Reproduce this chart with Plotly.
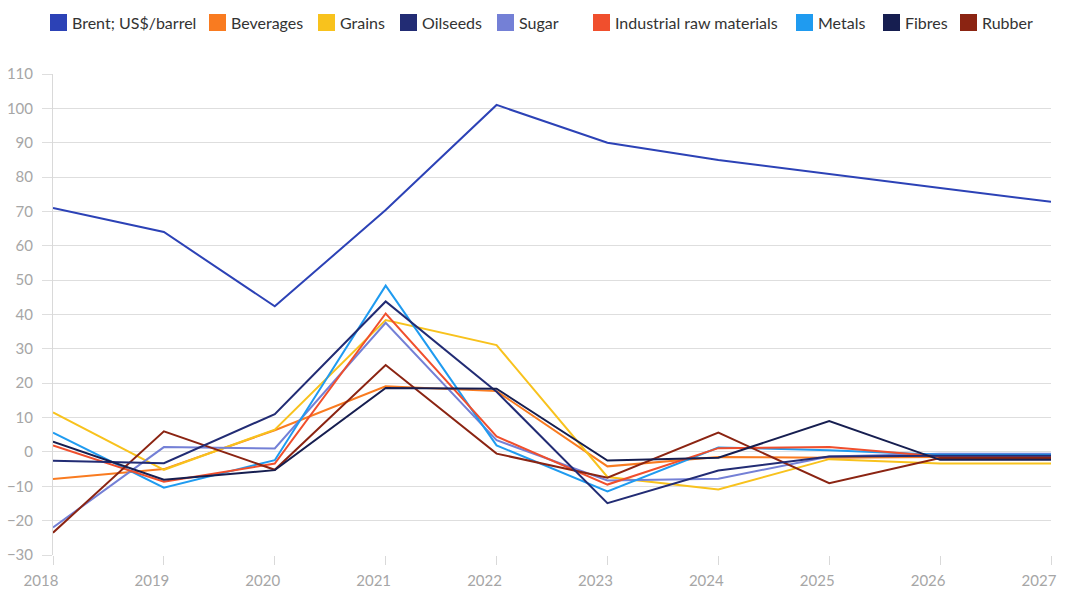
import plotly.graph_objects as go

years = [2018, 2019, 2020, 2021, 2022, 2023, 2024, 2025, 2026, 2027]

series_names = ["Brent; US$/barrel", "Beverages", "Grains", "Oilseeds", "Sugar",
                "Industrial raw materials", "Metals", "Fibres", "Rubber"]

brent = [71.0, 64.0, 42.4, 70.4, 101.0, 90.0, 85.0, 80.8, 76.8, 72.8]
beverages = [-7.9, -5.0, 6.3, 19.1, 17.7, -4.2, -1.5, -1.7, -1.5, -1.5]
grains = [11.5, -5.2, 6.5, 38.4, 31.1, -7.3, -10.9, -2.1, -3.4, -3.4]
oilseeds = [-2.6, -3.3, 11.0, 43.8, 17.5, -14.9, -5.4, -1.3, -1.1, -1.1]
sugar = [-22.0, 1.4, 1.0, 37.6, 3.4, -8.3, -7.8, -1.3, -0.5, -0.5]
industrial = [1.9, -8.7, -3.4, 40.3, 4.5, -9.5, 1.1, 1.4, -1.3, -1.3]
metals = [5.6, -10.4, -2.4, 48.4, 1.9, -11.5, 1.3, 0.5, -0.8, -0.8]
fibres = [3.0, -8.1, -5.3, 18.6, 18.4, -2.5, -1.7, 9.0, -2.3, -2.3]
rubber = [-23.5, 6.0, -5.2, 25.3, -0.5, -7.5, 5.6, -9.1, -1.8, -1.8]

series_values = [brent, beverages, grains, oilseeds, sugar, industrial, metals, fibres, rubber]
colors = ["#2c42b6", "#f97b20", "#f8c21d", "#222c74", "#7480d6",
          "#f04f2d", "#1f9bf0", "#161e50", "#8b2412"]

y_ticks = list(range(-30, 111, 10))

# layout geometry (pixels)
W, H = 1066, 589
ML, MR, MT, MB = 53, 15, 74, 34
PW, PH = W - ML - MR, H - MT - MB

def px_to_paper_x(px):
    return (px - ML) / PW

def px_to_paper_y(py):
    return (H - MB - py) / PH

# legend swatch left edges (px) for each entry
legend_left = [50, 209, 318, 400, 497, 593, 796, 883, 960]
SW = 17
LEG_TOP, LEG_BOT = 14, 31

fig = go.Figure()

draw_order = [1, 2, 4, 6, 5, 8, 3, 7, 0]
for i in draw_order:
    fig.add_trace(go.Scatter(
        x=years, y=series_values[i], mode="lines", name=series_names[i],
        line=dict(color=colors[i], width=2), showlegend=False,
        hovertemplate="%{x}: %{y}<extra>" + series_names[i] + "</extra>"))

shapes = []
annotations = []
for name, c, lx in zip(series_names, colors, legend_left):
    shapes.append(dict(type="rect", xref="paper", yref="paper",
                       x0=px_to_paper_x(lx), x1=px_to_paper_x(lx + SW),
                       y0=px_to_paper_y(LEG_BOT), y1=px_to_paper_y(LEG_TOP),
                       fillcolor=c, line=dict(width=0), layer="above"))
    annotations.append(dict(xref="paper", yref="paper",
                            x=px_to_paper_x(lx + SW + 3), y=px_to_paper_y((LEG_TOP + LEG_BOT) / 2),
                            xanchor="left", yanchor="middle", showarrow=False,
                            text=name, font=dict(size=16, color="#333333")))

fig.update_layout(
    width=W, height=H,
    margin=dict(l=ML, r=MR, t=MT, b=MB, autoexpand=False),
    paper_bgcolor="white", plot_bgcolor="white",
    font=dict(family="Lato, Noto Sans, sans-serif", color="#333333"),
    showlegend=False,
    shapes=shapes, annotations=annotations,
)

fig.update_xaxes(
    range=[2018, 2027], tickmode="array", tickvals=years,
    ticktext=[str(y) for y in years],
    showgrid=False, zeroline=False, showline=False, automargin=False,
    ticks="outside", ticklen=9, tickcolor="#d9d9d9", tickwidth=1,
    tickfont=dict(size=15, color="#a6a6a6"),
    ticklabelshift=-12, ticklabelstandoff=3,
)
fig.update_yaxes(
    range=[-30, 110], tickmode="array", tickvals=y_ticks,
    showgrid=True, gridcolor="#dedede", gridwidth=1,
    zeroline=False, automargin=False,
    showline=True, linecolor="#d9d9d9", linewidth=1,
    ticks="outside", ticklen=10, tickcolor="#dedede", tickwidth=1,
    tickfont=dict(size=15, color="#a6a6a6"),
    ticklabelstandoff=6,
)

fig.write_html("out.html", config={"displayModeBar": False},
               post_script="document.body.style.margin='0';document.body.style.overflow='hidden';")
